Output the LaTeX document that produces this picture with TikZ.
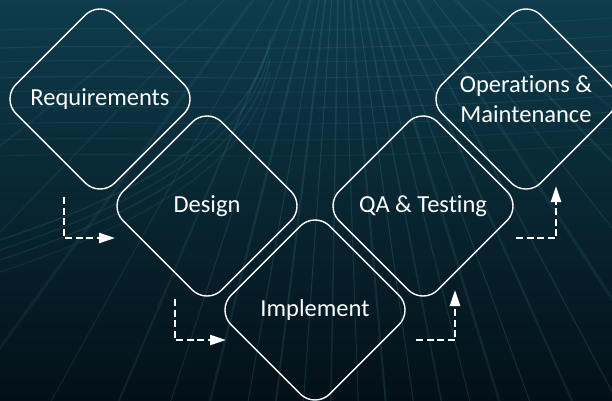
\documentclass[tikz,border=0pt]{standalone}
\usepackage{fontspec}
\setmainfont{Carlito}[Ligatures={NoCommon}]
\usetikzlibrary{shapes.geometric,arrows.meta}
\definecolor{bgtop}{RGB}{14,60,76}
\definecolor{bgmid}{RGB}{8,38,50}
\definecolor{bgbot}{RGB}{3,16,23}
\definecolor{streak}{RGB}{110,185,200}
\begin{document}
\begin{tikzpicture}[x=1pt,y=-1pt,
  phase/.style={diamond, draw=white, line width=1.4pt, rounded corners=21pt,
    minimum width=198pt, minimum height=198pt, inner sep=0pt, text=white,
    font=\fontsize{24.5}{30}\selectfont, align=center},
  flow/.style={draw=white, line width=2.4pt, dash pattern=on 7pt off 3.5pt,
    -{Triangle[length=16pt,width=10pt]}},
  streakline/.style={draw=streak, line cap=round}
]
% background
\shade[top color=bgtop, bottom color=bgbot, middle color=bgmid] (0,0) rectangle (612,400);
\useasboundingbox (0,0) rectangle (612,400);
\begin{scope}
\clip (0,0) rectangle (612,400);
% radiating streaks from a far vanishing point above
\foreach \a/\w/\o in {40/1.5/0.08, 46/2.5/0.10, 52/1/0.14, 57/3/0.09, 62/1.2/0.14, 66/2/0.11,
  70/1/0.16, 73/2.5/0.10, 76/1/0.15, 79/1.5/0.13, 82/1/0.16, 85/2/0.12, 88/1/0.15,
  91/1.5/0.13, 94/1/0.16, 97/2/0.12, 100/1/0.15, 104/2.5/0.10, 108/1/0.14,
  113/2/0.10, 119/1.2/0.10, 126/3/0.08, 134/1.5/0.08, 142/2/0.07}
  \draw[streakline, line width=\w pt, opacity=\o] (340,-120) -- ++(\a:800);
% horizontal / curved streaks in upper part
\foreach \yy/\o in {30/0.08, 48/0.11, 62/0.10, 78/0.13, 92/0.10, 108/0.12, 124/0.10, 140/0.08, 156/0.07}
  \draw[streakline, line width=1pt, opacity=\o] (0,\yy) .. controls (180,\yy-6) and (260,\yy+10) .. (612,\yy-12);
\foreach \s/\o in {0/0.12, 10/0.09, 20/0.11, 32/0.08}
  \draw[streakline, line width=1.5pt, opacity=\o] (0,240+\s) .. controls (120,200+\s) and (250,140+\s) .. (270,40+\s);
\end{scope}
% phases
\node[phase] (req) at (100,99) {Requirements};
\node[phase] (des) at (207,206) {Design};
\node[phase] (imp) at (315,310) {Implement};
\node[phase] (qa) at (423,206) {QA \& Testing};
\node[phase] (ops) at (526,99) {Operations \&\\Maintenance};
% flow arrows
\coordinate (a1s) at (64,197);
\coordinate (a1c) at (64,238);
\coordinate (a1e) at (115,238);
\coordinate (a2s) at (175,299);
\coordinate (a2c) at (175,340);
\coordinate (a2e) at (226,340);
\coordinate (a3s) at (416,340);
\coordinate (a3c) at (455,340);
\coordinate (a3e) at (455,290);
\coordinate (a4s) at (516,238);
\coordinate (a4c) at (556,238);
\coordinate (a4e) at (556,186);
\draw[flow] (a1s) -- (a1c) -- (a1e);
\draw[flow] (a2s) -- (a2c) -- (a2e);
\draw[flow] (a3s) -- (a3c) -- (a3e);
\draw[flow] (a4s) -- (a4c) -- (a4e);
\end{tikzpicture}
\end{document}
